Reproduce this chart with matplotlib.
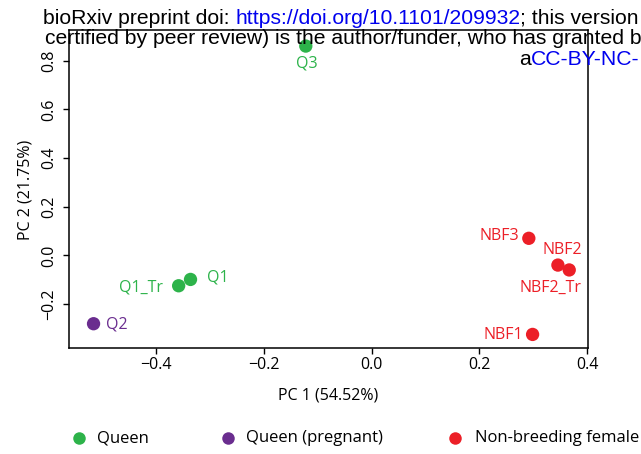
import matplotlib
matplotlib.use("Agg")
import matplotlib.pyplot as plt
from matplotlib.lines import Line2D
from matplotlib.transforms import IdentityTransform

# PCA scores per sample
samples = ["Q3", "Q1", "Q1_Tr", "Q2", "NBF3", "NBF2", "NBF2_Tr", "NBF1"]
pc1 = [-0.122, -0.336, -0.358, -0.516, 0.292, 0.346, 0.367, 0.299]
pc2 = [0.860, -0.099, -0.125, -0.281, 0.070, -0.040, -0.060, -0.325]
groups = ["Queen", "Queen", "Queen", "Queen (pregnant)",
          "Non-breeding female", "Non-breeding female",
          "Non-breeding female", "Non-breeding female"]

group_names = ["Queen", "Queen (pregnant)", "Non-breeding female"]
xticks = [-0.4, -0.2, 0.0, 0.2, 0.4]
yticks = [-0.2, 0.0, 0.2, 0.4, 0.6, 0.8]
xlabel = "PC 1 (54.52%)"
ylabel = "PC 2 (21.75%)"

colors = {"Queen": "#2db34a",
          "Queen (pregnant)": "#6a2d8f",
          "Non-breeding female": "#ec1f27"}

# label placement around each point (offset in pixels, alignment)
label_pos = {
    "Q3": ((1, -17), "center"),
    "Q1": ((16, 2), "left"),
    "Q1_Tr": ((-16, -2), "right"),
    "Q2": ((12, -1), "left"),
    "NBF3": ((-10, 2), "right"),
    "NBF2": ((4, 15), "center"),
    "NBF2_Tr": ((-19, -18), "center"),
    "NBF1": ((-9, -1), "right"),
}

FS = 11.5
plt.rcParams["font.family"] = ["Open Sans", "DejaVu Sans"]
plt.rcParams["font.size"] = FS

W, H = 641, 454
fig = plt.figure(figsize=(W / 100, H / 100), dpi=100)
ax = fig.add_axes([69.3 / W, 1 - 348.3 / H, (587.7 - 69.3) / W, (348.3 - 30.5) / H])

for x, y, s, g in zip(pc1, pc2, samples, groups):
    ax.scatter([x], [y], s=92, color=colors[g], edgecolors="none", zorder=3,
               clip_on=False)
    (dx, dy), ha = label_pos[s]
    ax.annotate(s, (x, y), xytext=(dx, dy), textcoords="offset pixels",
                ha=ha, va="center", color=colors[g], fontsize=FS)

ax.set_xlim(-0.561, 0.4013)
ax.set_ylim(-0.382, 0.924)
ax.set_xticks(xticks)
ax.set_xticklabels([f"{v:.1f}".replace("-", "\u2212") for v in xticks])
ax.set_yticks(yticks)
ax.set_yticklabels([f"{v:.1f}".replace("-", "\u2212") for v in yticks],
                   rotation=90, va="center")
for sp in ax.spines.values():
    sp.set_linewidth(1.1)
    sp.set_color("black")
ax.tick_params(axis="both", direction="out", length=4.5, width=1.0,
               colors="black", labelsize=FS)
ax.tick_params(axis="x", pad=2)
ax.tick_params(axis="y", pad=4)
ax.set_xlabel(xlabel, fontsize=FS, labelpad=10)
ax.set_ylabel(ylabel, fontsize=FS, labelpad=6)

# legend row along the bottom
legend_y = H - 438.3
legend_items = [(79, 96.7), (228.3, 246), (455, 475)]
for g, (mx, tx) in zip(group_names, legend_items):
    fig.add_artist(Line2D([mx], [legend_y], marker="o", markersize=9,
                          color=colors[g], markeredgewidth=0, linestyle="none",
                          transform=IdentityTransform()))
    fig.text(tx, legend_y, g, transform=IdentityTransform(), ha="left",
             va="center", fontsize=FS + 0.5, color="black")

# preprint banner across the top
fig.canvas.draw()
renderer = fig.canvas.get_renderer()
banner_font = dict(family=["Liberation Sans", "DejaVu Sans"], fontsize=15.2)


def text_width(s):
    t = fig.text(0, 0, s + "x", transform=IdentityTransform(), **banner_font)
    u = fig.text(0, 0, "x", transform=IdentityTransform(), **banner_font)
    w = t.get_window_extent(renderer).width - u.get_window_extent(renderer).width
    t.remove()
    u.remove()
    return w


def draw_runs(x0, baseline, runs):
    x = x0
    for s, c in runs:
        fig.text(x, H - baseline, s, transform=IdentityTransform(),
                 ha="left", va="baseline", color=c, **banner_font)
        x += text_width(s)


draw_runs(42.7, 23.5, [("bioRxiv preprint doi: ", "black"),
                       ("https://doi.org/10.1101/209932", "#0000ee"),
                       ("; this version", "black")])
draw_runs(45, 43.5, [("certified by peer review) is the author/funder, who has granted b", "black")])
draw_runs(519.3, 65, [("a", "black"), ("CC-BY-NC-", "#0000ee")])

fig.savefig("out.png", dpi=100)
